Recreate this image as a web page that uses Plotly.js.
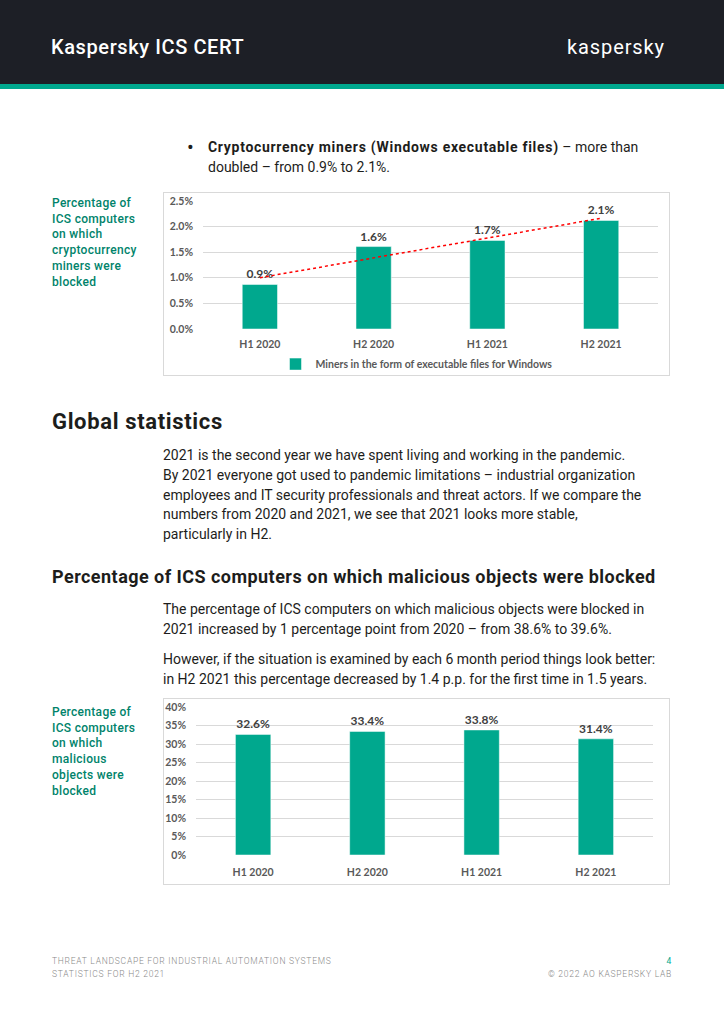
<!DOCTYPE html>
<html>
<head>
<meta charset="utf-8">
<script src="https://cdn.plot.ly/plotly-3.0.1.min.js"></script>
<style>
  html, body { margin:0; padding:0; background:#fff; }
  body { width:724px; height:1024px; position:relative; overflow:hidden; font-family: Roboto, "Noto Sans", sans-serif; color:#1d1d1b; }
  .abs { position:absolute; white-space:nowrap; }
  #header { position:absolute; left:0; top:0; width:724px; height:84px; background:#1d1f26; }
  #stripe { position:absolute; left:0; top:84px; width:724px; height:5px; background:#00a88e; }
  .side { font-size:12px; line-height:15.7px; color:#00836b; font-weight:500; letter-spacing:0.3px; }
  .body { font-size:14px; line-height:19.8px; }
  .body b { letter-spacing:0.7px; }
  .foot { font-size:8.5px; line-height:13px; color:#8a8a8a; font-weight:300; letter-spacing:0.75px; }
  .box { position:absolute; box-sizing:border-box; border:1px solid #d9d9d9; background:#fff; }
</style>
</head>
<body>
<div id="header"></div>
<div id="stripe"></div>
<div class="abs" style="left:51px; top:35px; font-size:20px; color:#fff; font-weight:500; letter-spacing:0.6px;">Kaspersky ICS CERT</div>
<div class="abs" style="left:567px; top:35px; font-size:20px; color:#fff; font-weight:400; letter-spacing:0.9px;">kaspersky</div>

<div class="abs" style="left:187px; top:135px; font-size:20px; line-height:24px;">•</div>
<div class="abs body" style="left:208px; top:138px;"><b>Cryptocurrency miners (Windows executable files)</b> – more than<br>doubled – from 0.9% to 2.1%.</div>

<div class="abs side" style="left:52px; top:196px;">Percentage of<br>ICS computers<br>on which<br>cryptocurrency<br>miners were<br>blocked</div>

<div id="chart1" class="box" style="left:163px; top:192px; width:507px; height:184px;"></div>

<div class="abs" style="left:52px; top:409px; font-size:22px; font-weight:700; letter-spacing:0.65px;">Global statistics</div>
<div class="abs body" style="left:163px; top:446px;">2021 is the second year we have spent living and working in the pandemic.<br>By 2021 everyone got used to pandemic limitations – industrial organization<br>employees and IT security professionals and threat actors. If we compare the<br>numbers from 2020 and 2021, we see that 2021 looks more stable,<br>particularly in H2.</div>

<div class="abs" style="left:52px; top:566px; font-size:18px; font-weight:700; letter-spacing:0.46px;">Percentage of ICS computers on which malicious objects were blocked</div>
<div class="abs body" style="left:163px; top:600px;">The percentage of ICS computers on which malicious objects were blocked in<br>2021 increased by 1 percentage point from 2020 – from 38.6% to 39.6%.</div>
<div class="abs body" style="left:163px; top:650px;">However, if the situation is examined by each 6 month period things look better:<br>in H2 2021 this percentage decreased by 1.4 p.p. for the first time in 1.5 years.</div>

<div class="abs side" style="left:52px; top:705px;">Percentage of<br>ICS computers<br>on which<br>malicious<br>objects were<br>blocked</div>

<div id="chart2" class="box" style="left:163px; top:698px; width:507px; height:187px;"></div>

<div class="abs foot" style="left:52px; top:955px;">THREAT LANDSCAPE FOR INDUSTRIAL AUTOMATION SYSTEMS<br>STATISTICS FOR H2 2021</div>
<div class="abs foot" style="right:52px; top:955px; text-align:right;"><span style="color:#00a88e; font-weight:400;">4</span><br>© 2022 AO KASPERSKY LAB</div>

<script>
// ---- data ----
const periods = ['H1 2020', 'H2 2020', 'H1 2021', 'H2 2021'];
const minersPct = [0.87, 1.61, 1.73, 2.12];
const minersLegend = 'Miners in the form of executable files for Windows';
const minersTicks = [0, 0.5, 1.0, 1.5, 2.0, 2.5];
const maliciousPct = [32.6, 33.4, 33.8, 31.4];
const maliciousTicks = [0, 5, 10, 15, 20, 25, 30, 35, 40];

// ---- styles ----
const GREEN = '#00a88e';
const GRID = '#d9d9d9';
const TICKFONT = {family: 'Lato, "Open Sans", sans-serif', size: 10.5, color: '#595959', weight: 700};
const LABELFONT = {family: 'Lato, "Open Sans", sans-serif', size: 12, color: '#404040', weight: 700};

// linear trendline (least squares) over the miners series
const xs = minersPct.map((_, i) => i + 1);
const mx = xs.reduce((a, b) => a + b, 0) / xs.length;
const my = minersPct.reduce((a, b) => a + b, 0) / minersPct.length;
let sxy = 0, sxx = 0;
xs.forEach((x, i) => { sxy += (x - mx) * (minersPct[i] - my); sxx += (x - mx) * (x - mx); });
const slope = sxy / sxx, icpt = my - slope * mx;
const trend = xs.map(x => icpt + slope * x);

const cfg = {displayModeBar: false, staticPlot: true};

Plotly.newPlot('chart1', [
  {
    type: 'bar', x: periods, y: minersPct, name: minersLegend,
    marker: {color: GREEN, line: {color: '#ffffff', width: 0.5}}, width: 0.31,
    text: minersPct.map(v => v.toFixed(1) + '%'), textposition: 'outside',
    textfont: LABELFONT, cliponaxis: false, hoverinfo: 'none'
  },
  {
    type: 'scatter', mode: 'lines', x: periods, y: trend, showlegend: false,
    line: {color: '#ff0000', width: 1.5, dash: 'dot'}, hoverinfo: 'none'
  }
], {
  width: 505, height: 182,
  margin: {l: 39, r: 11, t: 8, b: 46, autoexpand: false},
  paper_bgcolor: '#fff', plot_bgcolor: '#fff',
  showlegend: true,
  legend: {orientation: 'h', x: 0.5, xanchor: 'center', xref: 'container',
           y: 0.06, yanchor: 'middle', yref: 'container',
           font: {family: 'Lato, "Open Sans", sans-serif', size: 10.5, color: '#595959', weight: 700},
           itemwidth: 30},
  xaxis: {type: 'category', tickfont: TICKFONT, showgrid: false, showline: false, ticks: '', ticklabelstandoff: 7, automargin: false},
  yaxis: {range: [0, 2.5], tickvals: minersTicks, ticktext: minersTicks.map(v => v.toFixed(1) + '%'),
          tickfont: TICKFONT, gridcolor: GRID, gridwidth: 1, zeroline: false, showline: false, ticks: '', ticklabelstandoff: 9, automargin: false}
}, cfg);

Plotly.newPlot('chart2', [
  {
    type: 'bar', x: periods, y: maliciousPct, showlegend: false,
    marker: {color: GREEN, line: {color: '#ffffff', width: 0.5}}, width: 0.31,
    text: maliciousPct.map(v => v.toFixed(1) + '%'), textposition: 'outside',
    textfont: LABELFONT, cliponaxis: false, hoverinfo: 'none'
  }
], {
  width: 505, height: 185,
  margin: {l: 32, r: 16, t: 8, b: 29, autoexpand: false},
  paper_bgcolor: '#fff', plot_bgcolor: '#fff',
  xaxis: {type: 'category', tickfont: TICKFONT, showgrid: false, showline: false, ticks: '', ticklabelstandoff: 9, automargin: false},
  yaxis: {range: [0, 40], tickvals: maliciousTicks, ticktext: maliciousTicks.map(v => v + '%'),
          tickfont: TICKFONT, gridcolor: GRID, gridwidth: 1, zeroline: false, showline: false, ticks: '', ticklabelstandoff: 9, automargin: false}
}, cfg);
</script>
</body>
</html>
